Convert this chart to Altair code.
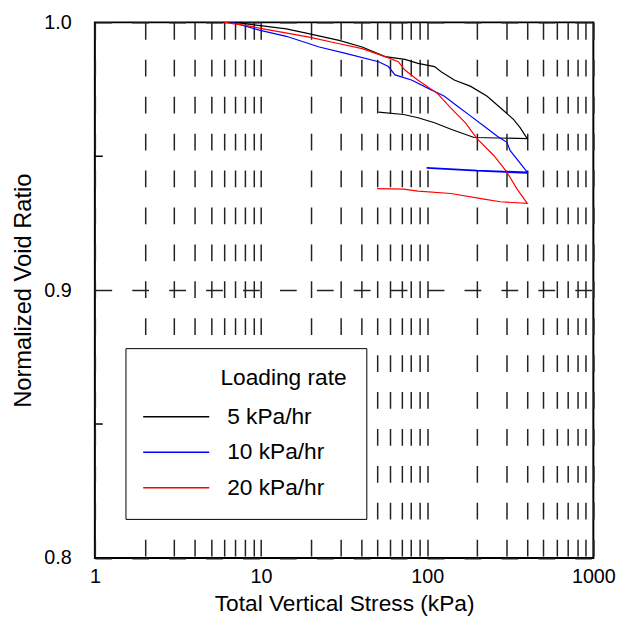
import altair as alt
import pandas as pd

series = ["5 kPa/hr", "10 kPa/hr", "20 kPa/hr"]
colors = ["#000000", "#0000ff", "#ff0000"]

stress_5 = [7.0, 9.9, 14.2, 18.7, 29.5, 40.6, 55.8, 73.4, 88.1, 110.7, 121.3, 145.5,
            182.8, 229.5, 275.6, 330.5, 362.4, 400, 191.3, 139, 110.7, 88.1, 72.1, 51]
ratio_5 = [1.000, 0.9988, 0.9976, 0.9960, 0.9933, 0.9908, 0.9872, 0.9862, 0.9847, 0.9835,
           0.9816, 0.9785, 0.9761, 0.9724, 0.9681, 0.9638, 0.9607, 0.9566, 0.9570, 0.9601,
           0.9625, 0.9644, 0.9656, 0.9665]

stress_10 = [6.7, 9.9, 14.2, 22.4, 32.3, 51, 58.4, 64, 80.4, 105.8, 126.9, 152.2, 182.8,
             219.3, 263, 301.7, 316, 400, 200, 100, 100, 200, 400]
ratio_10 = [1.000, 0.9970, 0.9948, 0.9908, 0.9884, 0.9853, 0.9835, 0.9804, 0.9785, 0.9748,
            0.9724, 0.9687, 0.9650, 0.9613, 0.9576, 0.9552, 0.9521, 0.9441, 0.9447, 0.9458,
            0.9455, 0.9445, 0.9437]

stress_20 = [6.0, 8.23, 10.3, 14.9, 19.5, 28.2, 40.6, 55.8, 67, 73.4, 87.7, 115, 139, 170,
             200, 251.6, 301.7, 346, 400, 275.6, 219.3, 139, 88.1, 72.1, 50]
ratio_20 = [1.000, 0.9988, 0.9976, 0.9958, 0.9945, 0.9923, 0.9902, 0.9872, 0.9853, 0.9822,
            0.9785, 0.9735, 0.9680, 0.9625, 0.9565, 0.9503, 0.9441, 0.9379, 0.9324, 0.9330,
            0.9340, 0.9361, 0.9370, 0.9377, 0.9379]

x_ticks = [1, 2, 3, 4, 5, 6, 7, 8, 9, 10, 20, 30, 40, 50, 60, 70, 80, 90,
           100, 200, 300, 400, 500, 600, 700, 800, 900, 1000]
x_labels = [1, 10, 100, 1000]
y_ticks = [0.8, 0.9, 1.0]
y_minor = [0.85, 0.95]

rows = []
for name, xs, ys in zip(series, [stress_5, stress_10, stress_20], [ratio_5, ratio_10, ratio_20]):
    for i, (sx, ry) in enumerate(zip(xs, ys)):
        rows.append({"rate": name, "stress": sx, "ratio": ry, "order": i})
df = pd.DataFrame(rows)
minor_df = pd.DataFrame({"v": y_minor})

FONT = "Liberation Sans"

xscale = alt.Scale(type="log", domain=[1, 1000], nice=False)
yscale = alt.Scale(domain=[0.8, 1.0], nice=False, zero=False)

grid_style = dict(grid=True, gridDash=[17, 20.4], gridColor="#222", gridWidth=1.5,
                  ticks=False, domain=False, labelColor="black", titleColor="black",
                  labelFlush=False)

lines = alt.Chart(df).mark_line(strokeWidth=1.2).encode(
    x=alt.X("stress:Q", scale=xscale,
            axis=alt.Axis(values=x_ticks, title="Total Vertical Stress (kPa)",
                          labelExpr="indexof(" + str(x_labels) + ", datum.value) >= 0 ? format(datum.value, 'd') : ''",
                          labelOverlap=False, labelFontSize=20, labelPadding=9,
                          titleFontSize=23, titleFontWeight="normal", titleY=46,
                          titleBaseline="middle", **grid_style)),
    y=alt.Y("ratio:Q", scale=yscale,
            axis=alt.Axis(values=y_ticks, format=".1f", title="Normalized Void Ratio",
                          labelFontSize=20, labelPadding=24,
                          titleFontSize=24, titleFontWeight="normal", titleX=-72,
                          titleBaseline="middle", **grid_style)),
    color=alt.Color("rate:N", scale=alt.Scale(domain=series, range=colors),
                    legend=alt.Legend(title="Loading rate", orient="none", legendX=31, legendY=330,
                                      padding=19, fillColor="white", strokeColor="black",
                                      symbolType="M-1.5,0L6.5,0M22.8,0", symbolSize=280,
                                      symbolStrokeWidth=1.5,
                                      labelFontSize=23, titleFontSize=23, titleFontWeight="normal",
                                      titleAnchor="end", labelOffset=61, rowPadding=12,
                                      titlePadding=16, labelColor="black", titleColor="black")),
    order="order:Q",
)

minor = alt.Chart(minor_df).mark_rule(color="black", strokeWidth=1.5).encode(
    y=alt.Y("v:Q", scale=yscale),
    x=alt.value(0),
    x2=alt.value(8),
)

chart = alt.layer(lines, minor).properties(
    width=505, height=542.5,
    autosize=alt.AutoSizeParams(type="none"),
    padding={"left": 88, "top": 10.5, "right": 28, "bottom": 71},
).configure(font=FONT).configure_view(stroke="black", strokeWidth=2)

chart.save("out.html", embed_options={"renderer": "svg", "actions": False})
